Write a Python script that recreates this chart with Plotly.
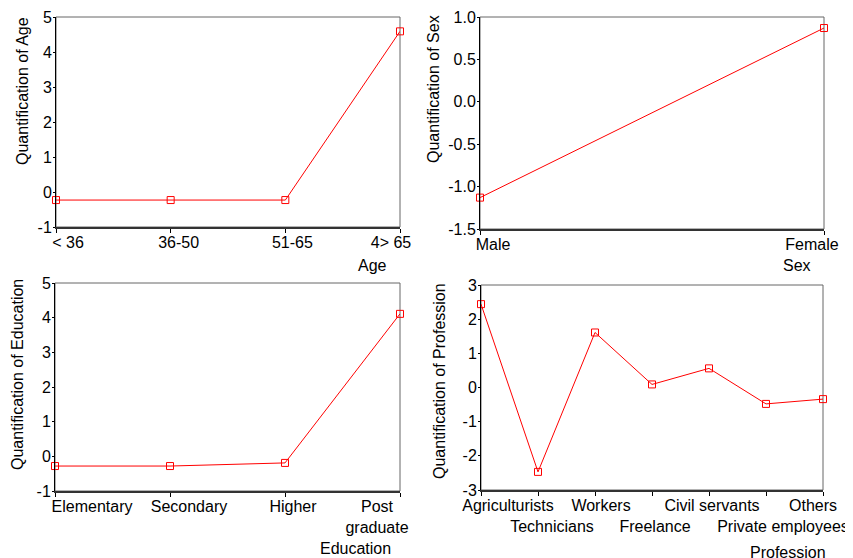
import plotly.graph_objects as go

W, H = 853, 558
OFF = 8  # page body margin offset (px)

# ---------------- data ----------------
age_cats = ["< 36", "36-50", "51-65", "4> 65"]
age_vals = [-0.23, -0.23, -0.23, 4.59]
age_yticks = [-1, 0, 1, 2, 3, 4, 5]
age_yticktext = ["-1", "0", "1", "2", "3", "4", "5"]

sex_cats = ["Male", "Female"]
sex_vals = [-1.13, 0.87]
sex_yticks = [-1.5, -1.0, -0.5, 0.0, 0.5, 1.0]
sex_yticktext = ["-1.5", "-1.0", "-0.5", "0.0", "0.5", "1.0"]

edu_cats = ["Elementary", "Secondary", "Higher", "Post<br>graduate"]
edu_vals = [-0.28, -0.28, -0.19, 4.11]
edu_yticks = [-1, 0, 1, 2, 3, 4, 5]
edu_yticktext = ["-1", "0", "1", "2", "3", "4", "5"]

prof_cats = ["Agriculturists", "Technicians", "Workers", "Freelance",
             "Civil servants", "Private employees", "Others"]
prof_vals = [2.44, -2.47, 1.61, 0.09, 0.56, -0.48, -0.34]
prof_yticks = [-3, -2, -1, 0, 1, 2, 3]
prof_yticktext = ["-3", "-2", "-1", "0", "1", "2", "3"]

# ---------------- layout / style ----------------
FONT = "Liberation Sans, Arial, sans-serif"
FS = 16
RED = "#ff0000"

panels = [
    dict(cats=age_cats, vals=age_vals, yr=[-1, 5], yt=age_yticks, ytt=age_yticktext,
         box=(56, 400, 17, 227), shift=[12, 8, 7, -9], stagger=False,
         xtitle="Age", xt_pos=(389, 265), ytitle="Quantification of Age", yt_pos=(22, 91)),
    dict(cats=sex_cats, vals=sex_vals, yr=[-1.5, 1.0], yt=sex_yticks, ytt=sex_yticktext,
         box=(480, 824, 17, 229), shift=[13, -12], stagger=False,
         xtitle="Sex", xt_pos=(813, 265), ytitle="Quantification of Sex", yt_pos=(434, 89)),
    dict(cats=edu_cats, vals=edu_vals, yr=[-1, 5], yt=edu_yticks, ytt=edu_yticktext,
         box=(55, 400, 283, 491), shift=[37, 19, 8, -23], stagger=False,
         xtitle="Education", xt_pos=(393, 548), ytitle="Quantification of Education", yt_pos=(17, 375)),
    dict(cats=prof_cats, vals=prof_vals, yr=[-3, 3], yt=prof_yticks, ytt=prof_yticktext,
         box=(481, 823, 285, 490), shift=[27, 14, 6, 3, 3, 17, -10], stagger=True,
         xtitle="Profession", xt_pos=(828, 552), ytitle="Quantification of Profession", yt_pos=(439, 381)),
]


def px_x(v):
    return (v - OFF) / W


def px_y(v):
    return 1 - (v - OFF) / H


fig = go.Figure()
annotations = []
shapes = []
layout = {}

for i, p in enumerate(panels):
    n = i + 1
    xa = "x" if n == 1 else f"x{n}"
    ya = "y" if n == 1 else f"y{n}"
    xkey = "xaxis" if n == 1 else f"xaxis{n}"
    ykey = "yaxis" if n == 1 else f"yaxis{n}"
    x0, x1, y0, y1 = p["box"]
    ncat = len(p["cats"])
    xs = list(range(ncat))
    fig.add_trace(go.Scatter(
        x=xs, y=p["vals"], mode="lines+markers", xaxis=xa, yaxis=ya,
        line=dict(color=RED, width=1),
        marker=dict(symbol="square-open", size=7, color=RED, line=dict(width=1, color=RED)),
        cliponaxis=False, showlegend=False, hoverinfo="skip"))
    pxu = (x1 - x0) / (ncat - 1)
    tickvals = [j + p["shift"][j] / pxu for j in range(ncat)]
    ticktext = [("<br>" + c if (p["stagger"] and j % 2 == 1) else c) for j, c in enumerate(p["cats"])]
    layout[xkey] = dict(
        domain=[px_x(x0), px_x(x1)], anchor=ya, range=[0, ncat - 1], type="linear",
        tickmode="array", tickvals=tickvals, ticktext=ticktext, ticks="", tickangle=0,
        minor=dict(tickmode="array", tickvals=xs, ticks="outside", ticklen=4,
                   tickcolor="black", tickwidth=1, showgrid=False),
        showline=True, linecolor="#333333", linewidth=2, showgrid=False, zeroline=False,
        automargin=False,
        tickfont=dict(family=FONT, size=FS, color="black"), fixedrange=True)
    layout[ykey] = dict(
        domain=[px_y(y1), px_y(y0)], anchor=xa, range=p["yr"],
        tickmode="array", tickvals=p["yt"], ticktext=p["ytt"], ticks="outside", ticklen=2,
        tickcolor="black", ticklabelstandoff=-2, automargin=False,
        showline=True, linecolor="black", linewidth=1, showgrid=False, zeroline=False,
        tickfont=dict(family=FONT, size=FS, color="black"), fixedrange=True)
    shapes.append(dict(type="rect", xref=f"{xa} domain", yref=f"{ya} domain",
                       x0=0, x1=1, y0=0, y1=1, line=dict(color="#666666", width=1), layer="below"))
    ax, ay = p["xt_pos"]
    annotations.append(dict(text=p["xtitle"], xref="paper", yref="paper", x=px_x(ax), y=px_y(ay),
                            xanchor="right", yanchor="middle", showarrow=False,
                            font=dict(family=FONT, size=FS, color="black")))
    tx, ty = p["yt_pos"]
    annotations.append(dict(text=p["ytitle"], xref="paper", yref="paper", x=px_x(tx), y=px_y(ty),
                            xanchor="center", yanchor="middle", textangle=-90, showarrow=False,
                            font=dict(family=FONT, size=FS, color="black")))

fig.update_layout(
    width=W, height=H, margin=dict(l=0, r=0, t=0, b=0, autoexpand=False),
    paper_bgcolor="white", plot_bgcolor="white",
    annotations=annotations, shapes=shapes, showlegend=False, **layout)

fig.write_html("out.html")
